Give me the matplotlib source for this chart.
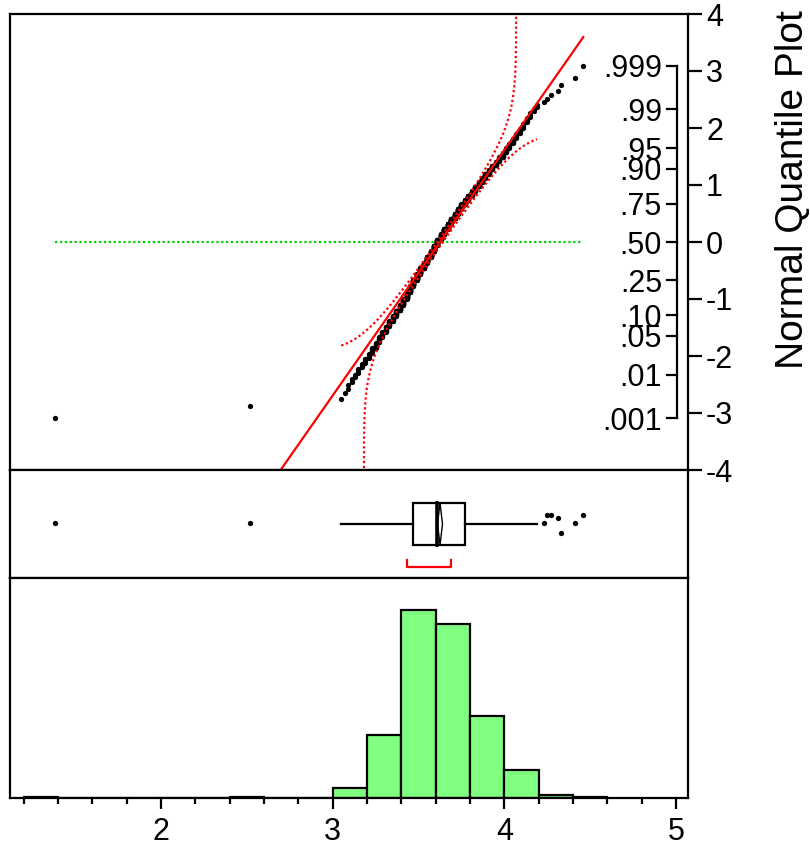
import numpy as np
import matplotlib
matplotlib.use("Agg")
import matplotlib.pyplot as plt
import matplotlib.transforms as mtransforms
from statistics import NormalDist

plt.rcParams['font.family'] = ['Liberation Sans', 'DejaVu Sans']

# ---------------- data (frequency table) ----------------
core_values = [3.05, 3.07, 3.09, 3.11, 3.13, 3.15, 3.17, 3.19,
               3.21, 3.23, 3.25, 3.27, 3.29, 3.31, 3.33, 3.35, 3.37, 3.39,
               3.41, 3.43, 3.45, 3.47, 3.49, 3.51, 3.53, 3.55, 3.57, 3.59,
               3.61, 3.63, 3.65, 3.67, 3.69, 3.71, 3.73, 3.75, 3.77, 3.79,
               3.81, 3.83, 3.85, 3.87, 3.89, 3.91, 3.93, 3.95, 3.97, 3.99,
               4.01, 4.03, 4.05, 4.07, 4.09, 4.11, 4.13, 4.15, 4.17, 4.19]
core_counts = [1, 1, 2, 2, 2, 3, 3, 4,
               5, 6, 7, 9, 10, 12, 13, 15, 17, 20,
               25, 29, 32, 33, 34, 35, 36, 38, 39, 40,
               40, 39, 37, 35, 33, 31, 29, 26, 24, 23,
               22, 20, 18, 17, 15, 14, 12, 11, 10, 10,
               9, 8, 7, 6, 5, 5, 4, 3, 2, 2]
low_outliers = [1.38, 2.52]
high_outliers = [4.23, 4.25, 4.27, 4.31, 4.33, 4.41, 4.46]
# vertical jitter of the outlier dots in the box plot (fraction of panel)
low_jitter = [0.51, 0.51]
high_jitter = [0.51, 0.58, 0.58, 0.555, 0.42, 0.51, 0.58]

prob_labels = ['.001', '.01', '.05', '.10', '.25', '.50', '.75', '.90', '.95', '.99', '.999']
prob_values = [0.001, 0.01, 0.05, 0.10, 0.25, 0.50, 0.75, 0.90, 0.95, 0.99, 0.999]
z_ticks = [-4, -3, -2, -1, 0, 1, 2, 3, 4]
x_major = [2, 3, 4, 5]
hist_edges = np.round(np.linspace(1.2, 4.6, 18), 2)

# ---------------- derived statistics ----------------
nd = NormalDist()
data = np.sort(np.concatenate([low_outliers, np.repeat(core_values, core_counts), high_outliers]))
N = len(data)
zq = np.array([nd.inv_cdf(i / (N + 1)) for i in range(1, N + 1)])
mean = data.mean()
sd = data.std(ddof=1)
q1, med, q3 = np.percentile(data, [25, 50, 75], method='weibull')
iqr = q3 - q1
wlo = data[data >= q1 - 1.5 * iqr].min()
whi = data[data <= q3 + 1.5 * iqr].max()
k = int(np.ceil(N / 2))
widths = data[k - 1:] - data[:N - k + 1]
i0 = int(np.argmin(widths))
sh_lo, sh_hi = data[i0], data[i0 + k - 1]
ci = 1.96 * sd / np.sqrt(N)

# ---------------- figure ----------------
W, H = 810, 846
fig = plt.figure(figsize=(W / 100, H / 100), dpi=100)


def px_axes(x0, y0, x1, y1):
    return fig.add_axes([x0 / W, 1 - y1 / H, (x1 - x0) / W, (y1 - y0) / H])


ax_q = px_axes(10, 14, 688, 470)
ax_b = px_axes(10, 470, 688, 578)
ax_h = px_axes(10, 578, 688, 798)
XLIM = (1.12, 5.07)
LW = 1.6
FS = 22
RED = '#FF0000'
GREEN = '#00D000'
MS = 3.8

for ax in (ax_q, ax_b, ax_h):
    ax.set_xlim(*XLIM)
    for s in ax.spines.values():
        s.set_linewidth(LW)
        s.set_color('black')

# ---- normal quantile plot ----
ax_q.set_ylim(-4, 4)
ax_q.plot(data, zq, 'o', ms=MS, mec='none', color='black', zorder=3)
xl = np.array([data.min(), data.max()])
ax_q.plot(xl, (xl - mean) / sd, color=RED, lw=LW, zorder=5)
ax_q.plot(xl, [0, 0], color=GREEN, lw=LW, ls=(0, (1, 1.2)), zorder=4)

D = 0.886 / np.sqrt(N)
xg = np.linspace(wlo, whi, 6000)
F = np.array([nd.cdf((x - mean) / sd) for x in xg])
z_up = np.array([nd.inv_cdf(p) for p in np.clip(F + D, 1e-7, 1 - 1e-7)])
z_lo = np.array([nd.inv_cdf(p) for p in np.clip(F - D, 1e-7, 1 - 1e-7)])
ax_q.plot(xg, z_up, color=RED, lw=LW, ls=(0, (1, 1.2)), zorder=6)
ax_q.plot(xg, z_lo, color=RED, lw=LW, ls=(0, (1, 1.2)), zorder=6)

ax_q.tick_params(axis='x', bottom=False, labelbottom=False)
ax_q.yaxis.tick_right()
ax_q.set_yticks(z_ticks)
ax_q.set_yticklabels([str(t) for t in z_ticks])
ax_q.tick_params(axis='y', direction='out', length=10, width=LW, labelsize=FS, pad=3)

trans = mtransforms.blended_transform_factory(ax_q.transAxes, ax_q.transData)
px_ax = (677 - 10) / 678
px_tk = (667 - 10) / 678
px_lb = (662 - 10) / 678
pz = [nd.inv_cdf(p) for p in prob_values]
ax_q.plot([px_ax, px_ax], [pz[0], pz[-1]], transform=trans, color='black', lw=LW, clip_on=False)
for lab, z in zip(prob_labels, pz):
    ax_q.plot([px_tk, px_ax], [z, z], transform=trans, color='black', lw=LW, clip_on=False)
    ax_q.text(px_lb, z, lab, transform=trans, ha='right', va='center_baseline', fontsize=FS)

fig.text(793 / W, 1 - 190 / H, 'Normal Quantile Plot', rotation=90, ha='center', va='center', fontsize=28)

# ---- box plot ----
ax_b.set_ylim(0, 1)
ax_b.set_xticks([])
ax_b.set_yticks([])
bt, bb = 0.695, 0.305
ax_b.add_patch(plt.Rectangle((q1, bb), q3 - q1, bt - bb, fill=False, lw=LW, ec='black'))
ax_b.plot([med, med], [bb, bt], color='black', lw=2.6)
ax_b.plot([wlo, q1], [0.5, 0.5], color='black', lw=LW)
ax_b.plot([q3, whi], [0.5, 0.5], color='black', lw=LW)
ax_b.plot([mean, mean - ci, mean, mean + ci, mean], [bt, 0.5, bb, 0.5, bt], color='black', lw=1.0)
outs_lo = data[data < wlo]
outs_hi = data[data > whi]
ax_b.plot(outs_lo, low_jitter, 'o', ms=MS, mec='none', color='black')
ax_b.plot(outs_hi, high_jitter, 'o', ms=MS, mec='none', color='black')
ax_b.plot([sh_lo, sh_lo, sh_hi, sh_hi], [0.167, 0.105, 0.105, 0.167], color=RED, lw=LW)

# ---- histogram ----
ax_h.hist(data, bins=hist_edges, color='#80FF80', edgecolor='black', linewidth=LW)
ax_h.set_ylim(0, 400)
ax_h.set_yticks([])
ax_h.set_xticks(x_major)
ax_h.set_xticks([round(v, 1) for v in np.linspace(1.2, 5.0, 20) if abs(v - round(v)) > 1e-6], minor=True)
ax_h.tick_params(axis='x', which='major', direction='out', length=8, width=LW, labelsize=FS, pad=6)
ax_h.tick_params(axis='x', which='minor', direction='out', length=4.5, width=LW)

fig.savefig('out.png', dpi=100)
